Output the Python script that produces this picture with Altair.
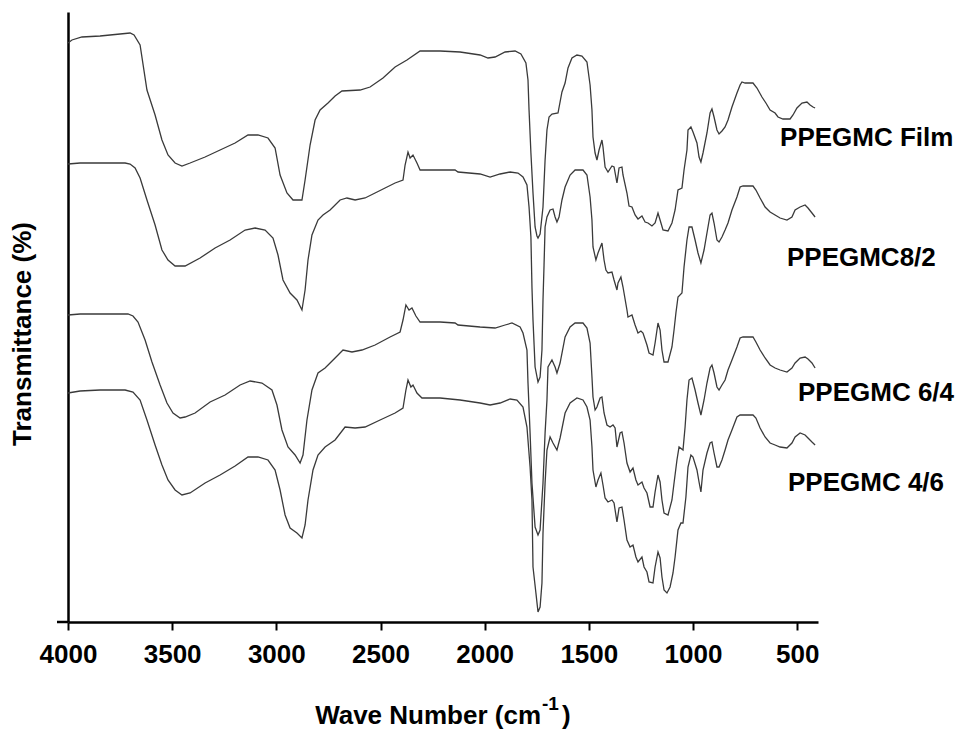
import altair as alt
import pandas as pd

# FTIR spectra (wavenumber in cm^-1, offset transmittance in arbitrary units)
film = [
    (4000, 579), (3981, 582), (3933, 585), (3846, 586), (3750, 588), (3702, 589), (3683, 587),
    (3654, 577), (3621, 532), (3582, 507), (3549, 482), (3520, 467), (3486, 459), (3453, 456),
    (3414, 459), (3342, 465), (3270, 472), (3198, 479), (3136, 487), (3088, 487), (3040, 484),
    (3006, 474), (2982, 447), (2949, 429), (2920, 422), (2877, 422), (2862, 442), (2838, 477),
    (2814, 502), (2790, 512), (2752, 519), (2718, 526), (2685, 531), (2598, 532), (2550, 535),
    (2488, 544), (2430, 555), (2373, 562), (2310, 571), (2214, 571), (2118, 570), (2022, 567),
    (1984, 564), (1950, 565), (1902, 570), (1854, 571), (1826, 568), (1802, 559), (1792, 542),
    (1787, 512), (1778, 469), (1768, 429), (1758, 395), (1749, 386), (1744, 384), (1734, 388),
    (1720, 415), (1710, 462), (1701, 492), (1691, 505), (1677, 508), (1648, 509), (1629, 530),
    (1614, 539), (1600, 554), (1581, 564), (1557, 567), (1533, 566), (1509, 560), (1494, 537),
    (1485, 512), (1480, 485), (1470, 469), (1461, 462), (1451, 472), (1437, 482), (1432, 475),
    (1422, 455), (1408, 450), (1389, 456), (1379, 455), (1365, 439), (1355, 454), (1341, 455),
    (1336, 447), (1317, 429), (1307, 416), (1293, 415), (1278, 407), (1264, 403), (1245, 406),
    (1230, 400), (1216, 399), (1197, 396), (1182, 399), (1168, 409), (1158, 402), (1144, 392),
    (1120, 391), (1101, 399), (1086, 412), (1072, 432), (1053, 434), (1043, 452), (1029, 472),
    (1024, 492), (1010, 495), (1000, 490), (981, 479), (971, 465), (962, 460), (952, 469),
    (933, 489), (918, 509), (909, 513), (899, 505), (885, 492), (875, 488), (861, 491),
    (846, 495), (832, 502), (813, 515), (789, 529), (774, 537), (765, 540), (750, 539),
    (712, 539), (693, 534), (669, 525), (650, 519), (630, 512), (606, 509), (592, 505),
    (568, 503), (534, 503), (520, 507), (501, 514), (477, 519), (453, 520), (438, 517),
    (424, 515), (414, 514),
]

ppegmc_8_2 = [
    (4000, 458), (3942, 459), (3726, 459), (3702, 458), (3678, 454), (3654, 444), (3621, 422),
    (3582, 397), (3549, 372), (3520, 362), (3486, 356), (3438, 356), (3366, 364), (3294, 374),
    (3222, 382), (3150, 392), (3102, 394), (3054, 392), (3016, 384), (2992, 367), (2968, 342),
    (2934, 329), (2901, 322), (2877, 312), (2862, 332), (2848, 362), (2829, 387), (2800, 402),
    (2776, 407), (2742, 412), (2694, 422), (2661, 424), (2622, 422), (2574, 424), (2526, 429),
    (2478, 434), (2430, 439), (2392, 442), (2382, 457), (2368, 470), (2358, 464), (2344, 467),
    (2325, 459), (2310, 452), (2214, 452), (2142, 452), (2128, 450), (2022, 448), (1974, 445),
    (1926, 448), (1878, 450), (1840, 449), (1816, 445), (1797, 437), (1787, 415), (1778, 385),
    (1773, 335), (1768, 302), (1758, 255), (1744, 240), (1734, 245), (1725, 272), (1720, 322),
    (1715, 357), (1710, 395), (1701, 405), (1686, 412), (1672, 413), (1662, 405), (1653, 400),
    (1643, 405), (1629, 422), (1614, 435), (1590, 447), (1566, 452), (1528, 452), (1509, 447),
    (1494, 425), (1485, 402), (1480, 375), (1466, 362), (1456, 369), (1437, 379), (1427, 362),
    (1418, 352), (1408, 349), (1389, 350), (1379, 342), (1365, 332), (1360, 339), (1346, 345),
    (1336, 335), (1317, 312), (1312, 305), (1293, 307), (1278, 297), (1264, 289), (1250, 291),
    (1240, 289), (1221, 277), (1211, 269), (1192, 267), (1182, 279), (1168, 299), (1158, 292),
    (1149, 272), (1139, 260), (1120, 260), (1101, 275), (1091, 292), (1082, 309), (1072, 325),
    (1053, 329), (1043, 355), (1029, 382), (1019, 395), (1005, 395), (990, 382), (976, 369),
    (962, 359), (947, 372), (933, 389), (918, 407), (909, 409), (899, 399), (885, 382),
    (875, 380), (861, 385), (846, 392), (832, 399), (813, 412), (789, 425), (774, 435),
    (760, 436), (712, 436), (698, 432), (678, 424), (654, 415), (630, 410), (606, 407),
    (582, 404), (549, 402), (525, 405), (510, 412), (486, 415), (462, 417), (448, 414),
    (429, 409), (414, 405),
]

ppegmc_6_4 = [
    (4000, 307), (3942, 308), (3712, 308), (3688, 306), (3664, 300), (3630, 282), (3597, 260),
    (3558, 237), (3525, 219), (3496, 209), (3462, 204), (3438, 205), (3390, 209), (3318, 220),
    (3246, 227), (3174, 237), (3126, 241), (3069, 239), (3021, 232), (2997, 217), (2973, 192),
    (2944, 175), (2910, 167), (2886, 159), (2872, 167), (2853, 202), (2829, 232), (2800, 249),
    (2766, 254), (2718, 264), (2680, 272), (2637, 270), (2589, 272), (2526, 277), (2454, 285),
    (2406, 290), (2392, 302), (2378, 317), (2363, 312), (2349, 314), (2330, 306), (2310, 300),
    (2214, 300), (2142, 299), (2128, 297), (2022, 295), (1950, 294), (1902, 297), (1869, 299),
    (1830, 295), (1816, 289), (1797, 272), (1792, 239), (1782, 189), (1773, 139), (1758, 95),
    (1744, 87), (1734, 92), (1720, 139), (1710, 189), (1701, 222), (1696, 255), (1677, 262),
    (1662, 255), (1653, 249), (1638, 259), (1614, 285), (1590, 295), (1566, 299), (1528, 299),
    (1509, 294), (1494, 279), (1485, 245), (1480, 225), (1470, 212), (1461, 215), (1446, 224),
    (1437, 225), (1427, 209), (1413, 197), (1398, 195), (1384, 197), (1374, 194), (1365, 175),
    (1350, 189), (1341, 190), (1331, 179), (1317, 159), (1302, 150), (1288, 154), (1274, 142),
    (1264, 137), (1245, 140), (1235, 134), (1221, 129), (1206, 115), (1192, 115), (1182, 130),
    (1168, 147), (1158, 140), (1149, 122), (1139, 109), (1120, 107), (1101, 122), (1091, 139),
    (1077, 162), (1067, 175), (1048, 172), (1038, 195), (1029, 222), (1019, 242), (1005, 244),
    (990, 232), (976, 219), (962, 207), (947, 222), (933, 239), (918, 254), (909, 257),
    (899, 249), (885, 235), (875, 232), (861, 237), (846, 242), (832, 252), (813, 262),
    (789, 275), (774, 284), (760, 285), (712, 285), (698, 280), (678, 272), (654, 264),
    (630, 257), (606, 254), (582, 252), (549, 250), (525, 254), (510, 259), (486, 264),
    (462, 265), (448, 263), (429, 259), (414, 254),
]

ppegmc_4_6 = [
    (4000, 229), (3942, 231), (3846, 232), (3726, 232), (3688, 230), (3654, 222), (3621, 202),
    (3582, 177), (3549, 157), (3520, 142), (3486, 132), (3453, 127), (3414, 129), (3342, 139),
    (3270, 147), (3198, 156), (3136, 165), (3088, 165), (3040, 162), (3006, 152), (2982, 132),
    (2958, 107), (2934, 94), (2901, 89), (2877, 84), (2862, 97), (2848, 122), (2824, 152),
    (2800, 167), (2766, 175), (2718, 182), (2670, 195), (2622, 194), (2574, 195), (2502, 202),
    (2430, 209), (2392, 214), (2378, 232), (2368, 242), (2354, 235), (2344, 237), (2325, 229),
    (2301, 224), (2214, 224), (2118, 222), (2022, 219), (1974, 217), (1926, 219), (1878, 223),
    (1845, 222), (1816, 215), (1797, 195), (1782, 155), (1773, 122), (1768, 55), (1754, 29),
    (1744, 10), (1734, 15), (1725, 39), (1720, 89), (1710, 139), (1701, 172), (1686, 185),
    (1672, 179), (1653, 172), (1638, 184), (1614, 209), (1590, 219), (1557, 224), (1528, 222),
    (1509, 215), (1494, 202), (1485, 175), (1480, 152), (1466, 135), (1456, 142), (1442, 149),
    (1432, 137), (1422, 124), (1408, 120), (1389, 122), (1379, 119), (1365, 100), (1355, 114),
    (1341, 115), (1331, 102), (1317, 82), (1302, 75), (1288, 77), (1274, 65), (1264, 60),
    (1245, 65), (1235, 55), (1221, 50), (1211, 40), (1192, 39), (1182, 55), (1168, 70),
    (1158, 64), (1149, 45), (1139, 32), (1125, 29), (1110, 35), (1096, 49), (1086, 65),
    (1072, 92), (1058, 99), (1048, 99), (1034, 125), (1024, 155), (1010, 167), (1000, 165),
    (981, 152), (971, 140), (962, 130), (952, 152), (933, 169), (918, 179), (909, 180),
    (899, 169), (885, 155), (875, 155), (861, 162), (846, 172), (832, 182), (813, 192),
    (789, 205), (774, 207), (760, 207), (712, 207), (698, 204), (678, 194), (654, 185),
    (630, 179), (606, 177), (582, 175), (549, 174), (525, 179), (510, 185), (486, 189),
    (462, 187), (448, 184), (429, 180), (414, 177),
]

sample_names = ["PPEGMC Film", "PPEGMC8/2", "PPEGMC 6/4", "PPEGMC 4/6"]
label_wn = [582, 549, 496, 544]
label_t = [484, 364, 229, 139]
x_ticks = [4000, 3500, 3000, 2500, 2000, 1500, 1000, 500]

FONT = "Liberation Sans"
W, H = 750, 610

rows = []
for name, series in zip(sample_names, [film, ppegmc_8_2, ppegmc_6_4, ppegmc_4_6]):
    for wn, t in series:
        rows.append({"sample": name, "wn": wn, "t": t})
spectra = pd.DataFrame(rows)
labels = pd.DataFrame({"sample": sample_names, "wn": label_wn, "t": label_t})

x_scale = alt.Scale(domain=[400, 4000], reverse=True, nice=False, zero=False)
y_scale = alt.Scale(domain=[0, 610], nice=False, zero=False)

lines = alt.Chart(spectra).mark_line(color="#3a3a3a", strokeWidth=1.3).encode(
    x=alt.X("wn:Q", scale=x_scale,
            axis=alt.Axis(values=x_ticks, format="d", title=None, grid=False,
                          labelFont=FONT, labelFontSize=26, labelFontWeight="bold",
                          labelColor="black", labelPadding=11, labelFlush=False,
                          tickSize=8, tickWidth=2, tickColor="black",
                          domainColor="black", domainWidth=2.5)),
    y=alt.Y("t:Q", scale=y_scale,
            axis=alt.Axis(title=None, labels=False, ticks=False, grid=False,
                          domainColor="black", domainWidth=2.5)),
    detail="sample:N",
)

names = alt.Chart(labels).mark_text(
    align="left", baseline="middle", font=FONT, fontSize=26, fontWeight="bold", color="black"
).encode(x="wn:Q", y="t:Q", text="sample:N")

title_df = pd.DataFrame({"txt": ["Transmittance (%)"]})
y_title = alt.Chart(title_df).mark_text(
    angle=270, align="center", baseline="middle", font=FONT, fontSize=26,
    fontWeight="bold", color="black"
).encode(x=alt.value(-45), y=alt.value(322), text="txt:N")

x_title_main = alt.Chart(pd.DataFrame({"txt": ["Wave Number (cm"]})).mark_text(
    align="right", baseline="alphabetic", font=FONT, fontSize=26, fontWeight="bold", color="black"
).encode(x=alt.value(473), y=alt.value(712), text="txt:N")

x_title_sup = alt.Chart(pd.DataFrame({"txt": ["-1"]})).mark_text(
    align="left", baseline="alphabetic", font=FONT, fontSize=19, fontWeight="bold", color="black"
).encode(x=alt.value(474), y=alt.value(698), text="txt:N")

x_title_end = alt.Chart(pd.DataFrame({"txt": [")"]})).mark_text(
    align="left", baseline="alphabetic", font=FONT, fontSize=26, fontWeight="bold", color="black"
).encode(x=alt.value(494), y=alt.value(712), text="txt:N")

# the bottom axis line runs a little past the left axis
axis_stub = alt.Chart(pd.DataFrame({"k": [0]})).mark_rule(color="black", strokeWidth=2.5).encode(
    x=alt.value(-11), x2=alt.value(0), y=alt.value(H)
)

chart = alt.layer(lines, names, y_title, x_title_main, x_title_sup, x_title_end, axis_stub).properties(
    width=W, height=H,
    autosize=alt.AutoSizeParams(type="none"),
    padding={"left": 68, "top": 12, "right": 143, "bottom": 108},
).configure_view(stroke=None)

chart.save("out.html", embed_options={"renderer": "svg", "actions": False})
